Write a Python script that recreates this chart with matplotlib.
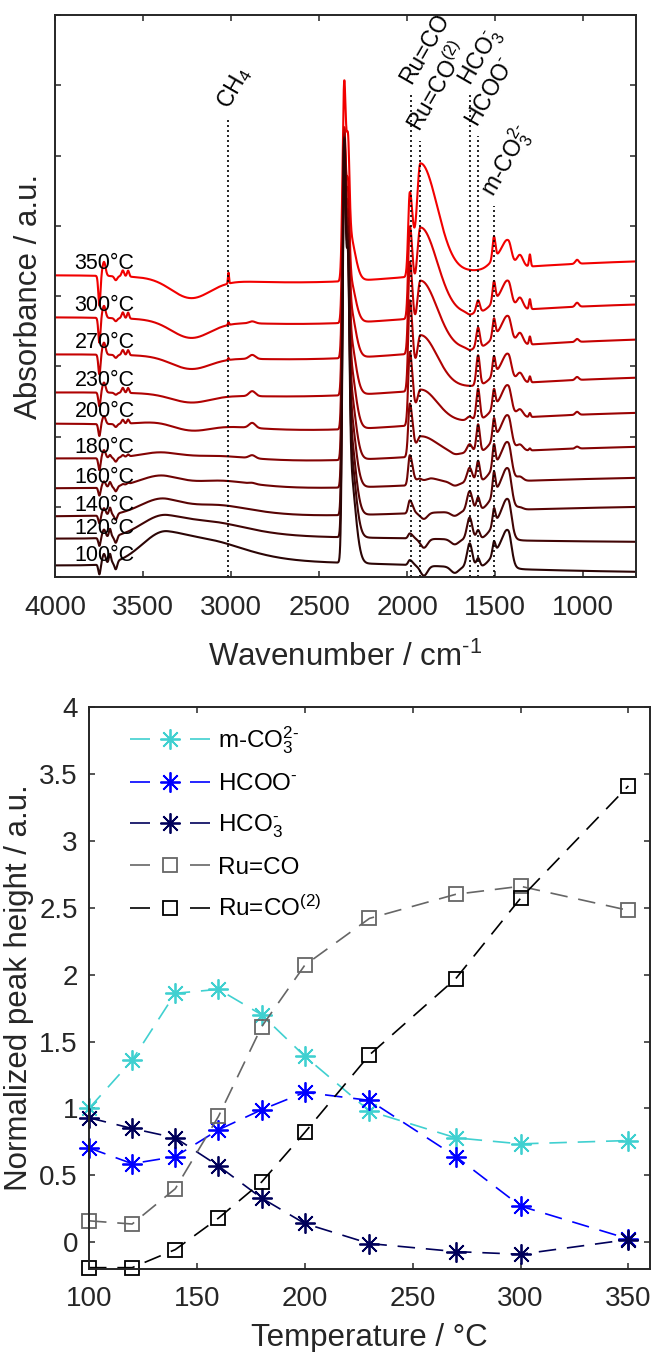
import numpy as np
import matplotlib
matplotlib.use("Agg")
import matplotlib.pyplot as plt
from matplotlib.lines import Line2D

plt.rcParams['font.family'] = ['Liberation Sans', 'DejaVu Sans']
plt.rcParams['mathtext.default'] = 'regular'

AX_COLOR = '#262626'
HY = '\u2010'  # short hyphen for charge signs / exponents

# ---------------------------------------------------------------------------
# In-situ DRIFT spectra (offset for clarity), described by their bands
# ---------------------------------------------------------------------------
temperatures = [100, 120, 140, 160, 180, 200, 230, 270, 300, 350]
spectrum_offset = [11, 38, 61, 89, 119, 154, 185, 223, 260, 302]
spectrum_tilt = [-6, -3, 9, 10, 11, 10, 14, 14, 12, 13]

# band centre / high-side & low-side widths (cm-1)
band_center = [3748, 3722, 3688, 3655, 3615, 3585, 3360, 3230, 2500,
               3015, 2880, 2358, 2338, 2330,
               1985, 1925, 1905, 1730, 1645, 1597, 1480, 1507,
               1425, 1360, 1303, 1035]
band_width_hi = [6, 9, 6, 8, 7, 6, 140, 110, 700,
                 3, 18, 9, 9, 8,
                 9, 20, 20, 22, 15, 10, 45, 8,
                 30, 18, 5, 10]
band_width_lo = [6, 9, 6, 8, 7, 6, 320, 110, 700,
                 3, 18, 9, 9, 32,
                 16, 95, 20, 22, 15, 10, 45, 8,
                 18, 18, 5, 10]
# band intensities, one row per band, columns follow `temperatures`
band_intensity = [
    [-10, -8, -8, -8, -12, -12, -14, -20, -25, -30],
    [10, 8, 7, 6, 8, 8, 10, 12, 12, 14],
    [9, 8, 7, 5, 3, 0, 0, 0, 0, 0],
    [-8, -7, -6, -5, -4, -3, -2, -3, -3, -4],
    [0, 0, 0, 1, 2, 4, 5, 5, 6, 6],
    [0, 0, 0, 1, 2, 4, 5, 5, 6, 6],
    [35, 25, 20, 15, 8, 5, 0, 0, 0, 0],
    [-4, -4, -6, -6, -3, -8, -8, -12, -17, -19],
    [6, 3, -4, -5, -8, -12, -11, -12, -13, -14],
    [0, 0, 0, 0, 0, 0, 0, 2, 3, 11],
    [0, 0, 0, 1, 3, 5, 5, 4, 2, 0],
    [400, 377, 357, 331, 306, 279, 248, 216, 185, 190],
    [220, 207, 196, 182, 168, 153, 136, 119, 102, 104],
    [100, 94, 89, 83, 77, 70, 62, 54, 46, 48],
    [5, 5, 13, 30, 53, 73, 90, 91, 91, 83],
    [0, 0, 0, 8, 20, 35, 55, 72, 90, 112],
    [-10, -9, -6, -3, 0, 0, 0, 0, 0, 0],
    [-6, -5, -4, -3, -2, 0, 0, 0, 0, 0],
    [24, 22, 20, 15, 9, 4, 0, -2, -2, 0],
    [9, 9, 13, 21, 28, 31, 30, 20, 12, 0],
    [17, 18, 19, 18, 16, 14, 12, 12, 12, 12],
    [12, 16, 22, 22, 20, 18, 18, 18, 20, 22],
    [30, 32, 32, 30, 28, 26, 24, 24, 24, 22],
    [0, 0, 2, 4, 6, 8, 10, 12, 12, 12],
    [0, 0, 0, 0, 2, 4, 6, 8, 10, 12],
    [0, 0, 0, 0, 2, 3, 3, 3, 4, 4],
]

# band assignments marked by dotted lines
assign_position = [3015, 1980, 1925, 1642, 1600, 1507]
assign_top = [457, 482, 434, 480, 439, 370]
assign_label = ['CH$_4$', 'Ru=CO', 'Ru=CO$^{(2)}$', 'HCO$_3^{%s}$' % HY,
                'HCOO$^{%s}$' % HY, 'm-CO$_3^{2%s}$' % HY]

# ---------------------------------------------------------------------------
# Normalised peak heights vs temperature
# ---------------------------------------------------------------------------
temp_points = [100, 120, 140, 160, 180, 200, 230, 270, 300, 350]
height_mco3 = [1.00, 1.36, 1.86, 1.89, 1.70, 1.39, 0.98, 0.78, 0.735, 0.76]
height_hcoo = [0.705, 0.587, 0.64, 0.84, 0.99, 1.12, 1.06, 0.64, 0.27, 0.025]
height_hco3 = [0.93, 0.85, 0.78, 0.57, 0.33, 0.14, -0.01, -0.07, -0.09, 0.02]
height_ruco = [0.16, 0.136, 0.40, 0.94, 1.61, 2.07, 2.42, 2.60, 2.66, 2.48]
height_ruco2 = [-0.19, -0.19, -0.055, 0.18, 0.45, 0.82, 1.40, 1.97, 2.57, 3.41]

# ---------------------------------------------------------------------------
fig = plt.figure(figsize=(6.52, 13.52), dpi=100)
ax1 = fig.add_axes([0.0844, 0.5732, 0.8911, 0.4157])
ax2 = fig.add_axes([0.1365, 0.0614, 0.8604, 0.4157])

wavenumber = np.linspace(4000, 700, 6601)


def band_shape(center, w_hi, w_lo):
    d = wavenumber - center
    w = np.where(d > 0, w_hi, w_lo)
    return np.exp(-0.5 * (d / w) ** 2)


shapes = [band_shape(c, h, l) for c, h, l in zip(band_center, band_width_hi, band_width_lo)]
intensity = np.array(band_intensity, dtype=float)

n = len(temperatures)
colors = [(0.17 + 0.78 * i / (n - 1), 0.02 * (1 - i / (n - 1)), 0.02 * (1 - i / (n - 1)))
          for i in range(n)]

for i in reversed(range(n)):
    y = spectrum_offset[i] + spectrum_tilt[i] * (4000 - wavenumber) / 3300.0
    for k, s in enumerate(shapes):
        y = y + intensity[k, i] * s
    ax1.plot(wavenumber, y, color=colors[i], lw=1.5, solid_joinstyle='round')
    ax1.text(3890, spectrum_offset[i] + 5, f'{temperatures[i]}°C', fontsize=15.5,
             ha='left', va='baseline', color='black', zorder=5)

for pos, top, lab in zip(assign_position, assign_top, assign_label):
    ax1.plot([pos, pos], [0, top], color='black', lw=1.2, ls=(0, (1.2, 1.8)))
    ax1.annotate(lab, xy=(pos, top), xytext=(0, 6), textcoords='offset points',
                 rotation=60, rotation_mode='anchor', ha='left', va='baseline',
                 fontsize=16.5)

ax1.set_xlim(4000, 700)
ax1.set_ylim(0, 560)
ax1.set_xticks([4000, 3500, 3000, 2500, 2000, 1500, 1000])
ax1.set_yticks(np.arange(0, 561, 70))
ax1.set_yticklabels([])
ax1.set_xlabel('Wavenumber / cm$^{%s1}$' % HY, fontsize=22.5, color=AX_COLOR,
               labelpad=15)
ax1.set_ylabel('Absorbance / a.u.', fontsize=22.5, color=AX_COLOR)
ax1.yaxis.set_label_coords(-0.019, 0.5)

# --- bottom panel
series = [
    (height_mco3, 'm-CO$_3^{2%s}$' % HY, '#40D0D0', 'ast'),
    (height_hcoo, 'HCOO$^{%s}$' % HY, '#0000FF', 'ast'),
    (height_hco3, 'HCO$_3^{%s}$' % HY, '#00005A', 'ast'),
    (height_ruco, 'Ru=CO', '#666666', 'sq'),
    (height_ruco2, 'Ru=CO$^{(2)}$', '#000000', 'sq'),
]
handles = []
for vals, lab, col, mk in series:
    if mk == 'ast':
        kw = dict(marker=(8, 2, 0), markersize=14.5, markeredgewidth=1.3)
    else:
        kw = dict(marker='s', markersize=9.5, markeredgewidth=1.3,
                  markerfacecolor='none')
    ax2.plot(temp_points, vals, color=col, lw=1.2, ls=(0, (10.5, 6.5)),
             markeredgecolor=col, clip_on=False, **kw)
    handles.append(Line2D([], [], color=col, lw=1.2, ls=(0, (12, 24)),
                          markeredgecolor=col, **kw))

ax2.legend(handles, [s[1] for s in series], loc='upper left',
           bbox_to_anchor=(0.055, 0.986), frameon=False, fontsize=17.5,
           handlelength=3.3, handletextpad=0.35, labelspacing=0.7,
           borderaxespad=0.0)

ax2.set_xlim(100, 360)
ax2.set_ylim(-0.2, 4)
ax2.set_xticks([100, 150, 200, 250, 300, 350])
ax2.set_yticks([0, 0.5, 1, 1.5, 2, 2.5, 3, 3.5, 4])
ax2.set_yticklabels(['0', '0.5', '1', '1.5', '2', '2.5', '3', '3.5', '4'])
ax2.set_xlabel('Temperature / °C', fontsize=22.5, color=AX_COLOR, labelpad=8)
ax2.set_ylabel('Normalized peak height / a.u.', fontsize=22.5, color=AX_COLOR)

for ax in (ax1, ax2):
    for sp in ax.spines.values():
        sp.set_color(AX_COLOR)
        sp.set_linewidth(1.4)
    ax.tick_params(direction='in', top=True, right=True, length=4, width=1.1,
                   colors=AX_COLOR, labelsize=20)
ax1.tick_params(axis='x', pad=13)
ax2.tick_params(axis='x', pad=12)
ax2.tick_params(axis='y', pad=8)

fig.savefig('out.png', dpi=100)
